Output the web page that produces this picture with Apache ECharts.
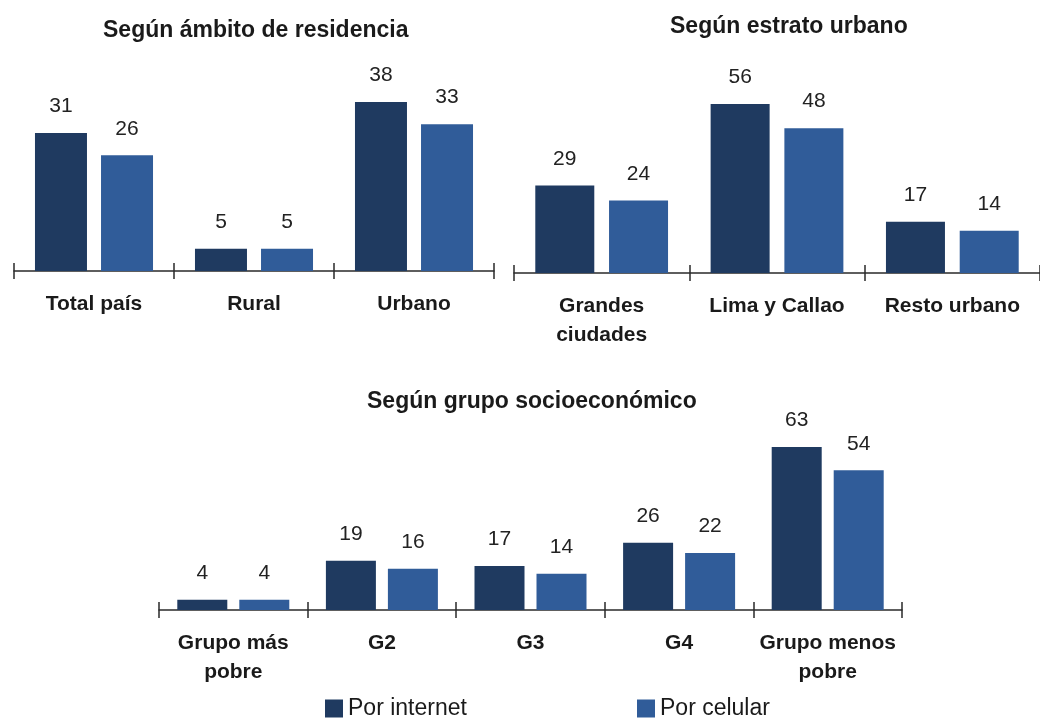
<!DOCTYPE html>
<html>
<head>
<meta charset="utf-8">
<script src="https://cdn.jsdelivr.net/npm/echarts@6/dist/echarts.min.js"></script>
<style>
  html, body { margin: 0; padding: 0; background: #fff; }
  #chart { width: 1040px; height: 720px; }
</style>
</head>
<body>
<div id="chart"></div>
<script>
// datos (%)
const ambitoCats = ["Total país", "Rural", "Urbano"];
const ambitoInternet = [31, 5, 38];
const ambitoCelular = [26, 5, 33];

const estratoCats = ["Grandes\nciudades", "Lima y Callao", "Resto urbano"];
const estratoInternet = [29, 56, 17];
const estratoCelular = [24, 48, 14];

const grupoCats = ["Grupo más\npobre", "G2", "G3", "G4", "Grupo menos\npobre"];
const grupoInternet = [4, 19, 17, 26, 63];
const grupoCelular = [4, 16, 14, 22, 54];

const dark = "#1f3a60";
const light = "#305c99";
const plain = "'Liberation Sans', Arial, sans-serif";

let chart = echarts.init(document.getElementById("chart"));

function catAxis(grid, cats, withLabels) {
  return {
    type: "category",
    gridIndex: grid,
    position: "bottom",
    data: cats,
    axisLine: { show: withLabels, lineStyle: { color: "#2a2a2a", width: 1.5 } },
    axisTick: { show: true, inside: !withLabels, length: 8, lineStyle: { color: "#2a2a2a", width: 1.5 } },
    axisLabel: {
      show: withLabels,
      margin: 19,
      fontFamily: plain,
      fontWeight: "bold",
      fontSize: 21,
      lineHeight: 29,
      color: "#1a1a1a",
      interval: 0
    }
  };
}

function valAxis(grid, max) {
  return { type: "value", gridIndex: grid, min: 0, max: max, show: false };
}

function barSeries(name, axis, data, color, width, gap) {
  return {
    name: name,
    type: "bar",
    xAxisIndex: axis,
    yAxisIndex: axis,
    data: data,
    barWidth: width,
    barGap: gap,
    itemStyle: { color: color },
    label: {
      show: true,
      position: "top",
      distance: 16,
      fontFamily: plain,
      fontSize: 21,
      color: "#222"
    }
  };
}

const titleStyle = { fontFamily: plain, fontWeight: "bold", fontSize: 23, color: "#1a1a1a" };

const option = {
  backgroundColor: "#fff",
  animation: false,
  title: [
    { text: "Según ámbito de residencia", left: 103, top: 19, padding: 0, textStyle: titleStyle },
    { text: "Según estrato urbano", left: 670, top: 15, padding: 0, textStyle: titleStyle },
    { text: "Según grupo socioeconómico", left: 367, top: 390, padding: 0, textStyle: titleStyle }
  ],
  legend: [
    {
      data: ["Por internet"],
      left: 325,
      top: 697,
      padding: 0,
      itemWidth: 18,
      itemHeight: 18,
      icon: "rect",
      textStyle: { fontFamily: plain, fontSize: 23, color: "#1a1a1a" }
    },
    {
      data: ["Por celular"],
      left: 637,
      top: 697,
      padding: 0,
      itemWidth: 18,
      itemHeight: 18,
      icon: "rect",
      textStyle: { fontFamily: plain, fontSize: 23, color: "#1a1a1a" }
    }
  ],
  grid: [
    { left: 14, top: 93, width: 480, height: 178 },
    { left: 514, top: 92, width: 532, height: 181 },
    { left: 159, top: 429, width: 743, height: 181 }
  ],
  xAxis: [
    catAxis(0, ambitoCats, true),
    catAxis(1, estratoCats, true),
    catAxis(2, grupoCats, true),
    catAxis(0, ambitoCats, false),
    catAxis(1, estratoCats, false),
    catAxis(2, grupoCats, false)
  ],
  yAxis: [valAxis(0, 40), valAxis(1, 60), valAxis(2, 70)],
  series: [
    barSeries("Por internet", 0, ambitoInternet, dark, 52, "27%"),
    barSeries("Por celular", 0, ambitoCelular, light, 52, "27%"),
    barSeries("Por internet", 1, estratoInternet, dark, 59, "25%"),
    barSeries("Por celular", 1, estratoCelular, light, 59, "25%"),
    barSeries("Por internet", 2, grupoInternet, dark, 50, "24%"),
    barSeries("Por celular", 2, grupoCelular, light, 50, "24%")
  ]
};

chart.setOption(option);
</script>
</body>
</html>
